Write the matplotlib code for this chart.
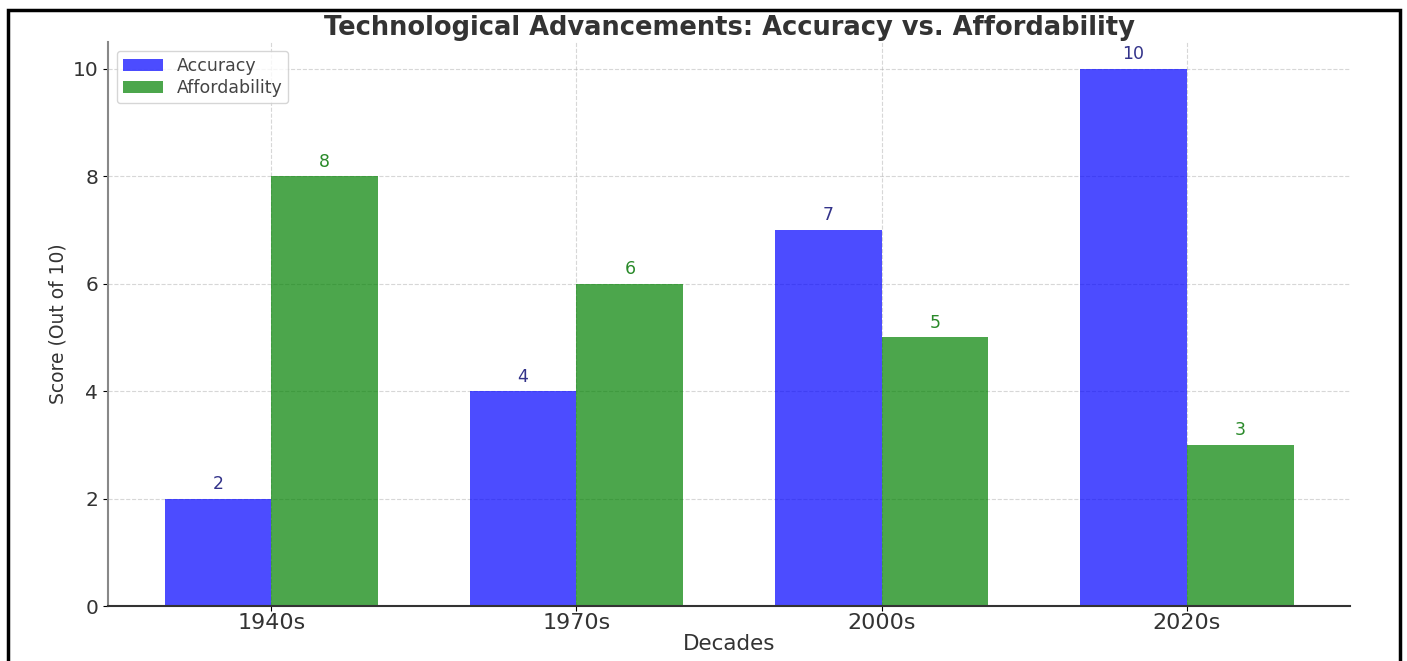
import numpy as np
import matplotlib.pyplot as plt
from matplotlib.patches import Rectangle

decades = ["1940s", "1970s", "2000s", "2020s"]
accuracy = [2, 4, 7, 10]
affordability = [8, 6, 5, 3]

x = np.arange(len(decades))
width = 0.35

fig = plt.figure(figsize=(14.07, 6.61), dpi=100)
ax = fig.add_axes([0.0768, 0.0832, 0.8827, 0.8533])

bars1 = ax.bar(x - width/2, accuracy, width, label="Accuracy", color="blue", alpha=0.7)
bars2 = ax.bar(x + width/2, affordability, width, label="Affordability", color="green", alpha=0.7)

# value labels on top of bars
for b in bars1:
    ax.annotate(str(int(b.get_height())), (b.get_x() + b.get_width()/2, b.get_height()),
                xytext=(0, 4), textcoords="offset points", ha="center", va="bottom",
                color="#33338a", fontsize=12.5)
for b in bars2:
    ax.annotate(str(int(b.get_height())), (b.get_x() + b.get_width()/2, b.get_height()),
                xytext=(0, 4), textcoords="offset points", ha="center", va="bottom",
                color="#2a8a2a", fontsize=12.5)

ax.set_xticks(x)
ax.set_xticklabels(decades, fontsize=16, color="#333333")
ax.tick_params(axis="x", pad=1.5)
ax.tick_params(axis="y", labelsize=14.5, labelcolor="#333333")
ax.set_xlabel("Decades", fontsize=15.5, color="#333333", labelpad=1)
ax.set_ylabel("Score (Out of 10)", fontsize=13.5, color="#333333")
ax.set_title("Technological Advancements: Accuracy vs. Affordability",
             fontsize=18.5, fontweight="bold", color="#333333", pad=5)

ax.grid(True, linestyle="--", linewidth=0.8, alpha=0.5)
ax.set_axisbelow(True)
ax.spines["top"].set_visible(False)
ax.spines["right"].set_visible(False)
ax.spines["left"].set_color("#888888")
ax.spines["left"].set_linewidth(1.5)
ax.spines["bottom"].set_color("#333333")
ax.spines["bottom"].set_linewidth(1.5)

leg = ax.legend(loc="upper left", fontsize=12.5, framealpha=0.8,
                labelspacing=0.25, borderpad=0.35, handlelength=2.3)
for t in leg.get_texts():
    t.set_color("#444444")

# black frame round the whole picture
fig.patches.append(Rectangle((8/1407, -0.05), 1392/1407, 1.05 - 10/661,
                             transform=fig.transFigure, fill=False,
                             edgecolor="black", linewidth=2.5))

fig.savefig("out.png", dpi=100)
